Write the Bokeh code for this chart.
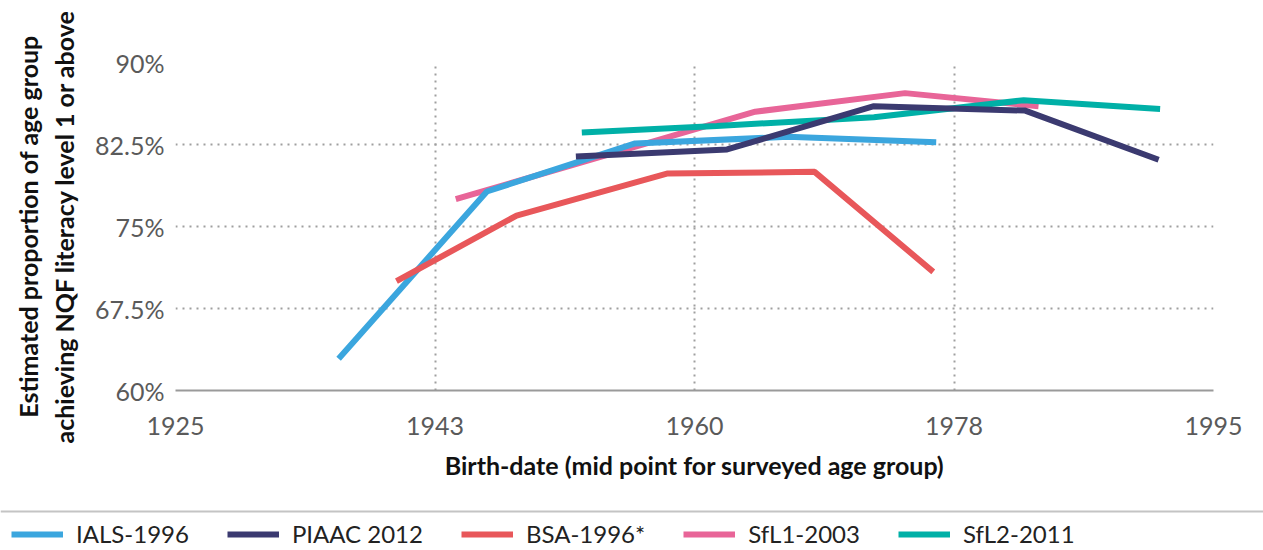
from bokeh.plotting import figure
from bokeh.models import FixedTicker, Legend, LegendItem, Span, Range1d
from bokeh.embed import file_html
from bokeh.resources import INLINE

# ---- data ----
x_ticks = [1925, 1942.5, 1960, 1977.5, 1995]
x_tick_labels = ["1925", "1943", "1960", "1978", "1995"]
y_ticks = [60, 67.5, 75, 82.5, 90]
y_tick_labels = ["60%", "67.5%", "75%", "82.5%", "90%"]

series_names = ["IALS-1996", "PIAAC 2012", "BSA-1996*", "SfL1-2003", "SfL2-2011"]

ials_years = [1936, 1946, 1956, 1966.3, 1976.3]
ials_values = [62.9, 78.2, 82.6, 83.2, 82.7]

piaac_years = [1952, 1962.2, 1972.1, 1982.3, 1991.3]
piaac_values = [81.4, 82.05, 86.0, 85.6, 81.1]

bsa_years = [1939.9, 1948, 1958.2, 1968.1, 1976.1]
bsa_values = [70.0, 76.0, 79.85, 80.0, 70.85]

sfl1_years = [1943.9, 1954, 1964.1, 1974.2, 1983.2]
sfl1_values = [77.5, 81.5, 85.5, 87.2, 86.0]

sfl2_years = [1952.4, 1961.5, 1972.1, 1982.2, 1991.4]
sfl2_values = [83.6, 84.2, 85.0, 86.55, 85.75]

colors = {
    "IALS-1996": "#3ba6de",
    "PIAAC 2012": "#3b3a70",
    "BSA-1996*": "#e8575a",
    "SfL1-2003": "#e86598",
    "SfL2-2011": "#00b0a7",
}

FONT = "Lato"
W = 1263

p = figure(width=W, height=495, x_range=(1925, 1995), y_range=(60, 90),
           output_backend="svg", toolbar_location=None,
           min_border_left=175, min_border_right=50, min_border_top=62,
           min_border_bottom=105)
p.outline_line_color = None

series = {
    "SfL1-2003": (sfl1_years, sfl1_values),
    "SfL2-2011": (sfl2_years, sfl2_values),
    "IALS-1996": (ials_years, ials_values),
    "BSA-1996*": (bsa_years, bsa_values),
    "PIAAC 2012": (piaac_years, piaac_values),
}
for name, (xs, ys) in series.items():
    p.line(xs, ys, line_color=colors[name], line_width=6)

p.xaxis.ticker = FixedTicker(ticks=x_ticks)
p.xaxis.major_label_overrides = {t: l for t, l in zip(x_ticks, x_tick_labels)}
p.yaxis.ticker = FixedTicker(ticks=y_ticks)
p.yaxis.major_label_overrides = {t: l for t, l in zip(y_ticks, y_tick_labels)}

for ax in (p.xaxis[0], p.yaxis[0]):
    ax.major_tick_line_color = None
    ax.minor_tick_line_color = None
    ax.major_tick_out = 0
    ax.major_tick_in = 0
    ax.minor_tick_out = 0
    ax.major_label_text_font = FONT
    ax.major_label_text_font_size = "25px"
    ax.major_label_text_color = "#5a5a5a"
    ax.axis_label_text_font = FONT
    ax.axis_label_text_font_size = "25px"
    ax.axis_label_text_font_style = "bold"
    ax.axis_label_text_color = "#111111"

p.xaxis.axis_line_color = "#9a9a9a"
p.xaxis.axis_line_width = 2
p.xaxis.major_label_standoff = 26
p.xaxis.axis_label = "Birth-date (mid point for surveyed age group)"
p.xaxis.axis_label_standoff = 12

p.yaxis.axis_line_color = None
p.yaxis.major_label_standoff = 11
p.yaxis.axis_label = "Estimated proportion of age group\nachieving NQF literacy level 1 or above"
p.yaxis.axis_label_standoff = 13
p.yaxis.axis_label_text_line_height = 1.2

p.xgrid.ticker = FixedTicker(ticks=x_ticks)
p.ygrid.ticker = FixedTicker(ticks=y_ticks)
for g in (p.xgrid[0], p.ygrid[0]):
    g.grid_line_color = "#9f9f9f"
    g.grid_line_width = 2
    g.grid_line_dash = "2 5"

# ---- legend strip (separate root so its frame spans the full width) ----
H2 = 54
q = figure(width=W, height=H2, x_range=Range1d(0, W), y_range=Range1d(0, H2),
           output_backend="svg", toolbar_location=None,
           x_axis_type=None, y_axis_type=None,
           min_border_left=0, min_border_right=0, min_border_top=0,
           min_border_bottom=0)
q.outline_line_color = None
q.grid.visible = False
q.add_layout(Span(location=38, dimension="width", line_color="#c4c4c4",
                  line_width=2))

items = []
for n in series_names:
    xs, ys = series[n]
    # same series drawn off-range in the strip, only used as legend glyphs
    r = q.line(xs, ys, line_color=colors[n], line_width=6)
    items.append(LegendItem(label=n, renderers=[r]))
legend = Legend(items=items, orientation="horizontal", location=(11, 1),
                glyph_width=52, glyph_height=20, label_standoff=13, spacing=38,
                padding=0, margin=0, border_line_color=None,
                background_fill_alpha=0,
                label_text_font=FONT, label_text_font_size="24px",
                label_text_color="#222222")
q.add_layout(legend)

open("out.html", "w").write(file_html([p, q], INLINE))
